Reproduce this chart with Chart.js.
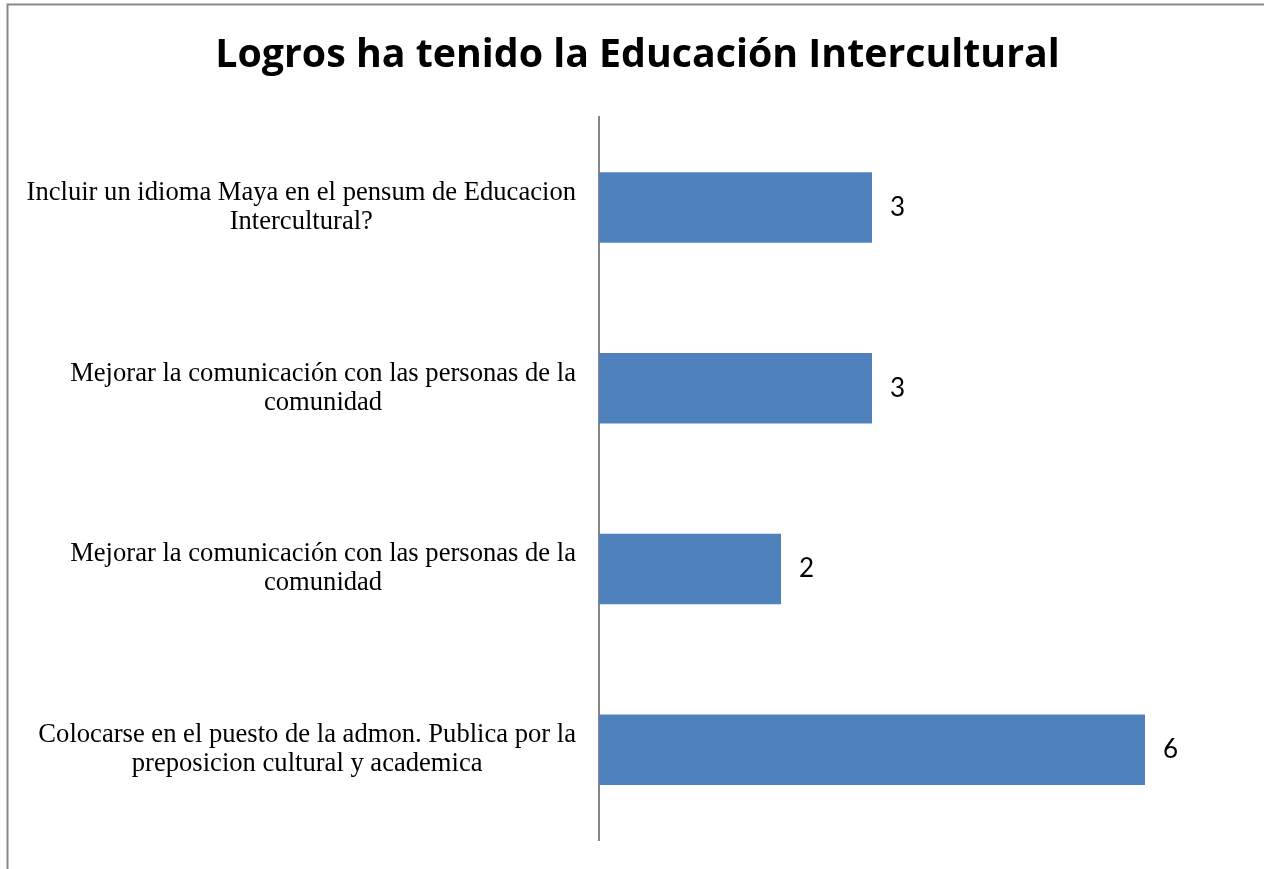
<!DOCTYPE html>
<html>
<head>
<meta charset="utf-8">
<script src="https://cdn.jsdelivr.net/npm/chart.js@4/dist/chart.umd.min.js"></script>
<style>
  html, body { margin: 0; padding: 0; background: #fff; }
  #wrap { width: 1264px; height: 869px; }
</style>
</head>
<body>
<div id="wrap"><canvas id="logrosChart"></canvas></div>
<script>
const categories = [
  ["Incluir un idioma Maya en el pensum de Educacion", "Intercultural?"],
  ["Mejorar la comunicación con las personas de la", "comunidad"],
  ["Mejorar la comunicación con las personas de la", "comunidad"],
  ["Colocarse en el puesto de la admon. Publica por la", "preposicion cultural y academica"]
];
const values = [3, 3, 2, 6];
const axisMax = 7;

const labelFont = "26.6px 'Liberation Serif', 'Times New Roman', serif";
const valueFont = "26px Lato, 'Open Sans', sans-serif";

// marco del grafico (solo arriba e izquierda visibles)
const framePlugin = {
  id: "frame",
  beforeDraw(chart) {
    const ctx = chart.ctx;
    ctx.save();
    ctx.strokeStyle = "#888888";
    ctx.lineWidth = 2;
    ctx.beginPath();
    ctx.moveTo(7.5, 869);
    ctx.lineTo(7.5, 4.5);
    ctx.lineTo(1264, 4.5);
    ctx.stroke();
    ctx.restore();
  }
};

// etiquetas de categoria: bloque alineado a la derecha, lineas centradas
const categoryLabels = {
  id: "categoryLabels",
  afterDraw(chart) {
    const ctx = chart.ctx;
    const yScale = chart.scales.y;
    const right = chart.chartArea.left - 23;
    const lineH = 29;
    ctx.save();
    ctx.font = labelFont;
    ctx.fillStyle = "#000";
    ctx.textAlign = "center";
    ctx.textBaseline = "middle";
    categories.forEach((lines, i) => {
      const y = yScale.getPixelForValue(i);
      const widest = Math.max(...lines.map(l => ctx.measureText(l).width));
      const cx = right - widest / 2;
      const top = y - (lines.length - 1) * lineH / 2;
      lines.forEach((l, j) => ctx.fillText(l, cx, top + j * lineH));
    });
    ctx.restore();
  }
};

// valores al final de cada barra
const valueLabels = {
  id: "valueLabels",
  afterDatasetsDraw(chart) {
    const ctx = chart.ctx;
    const meta = chart.getDatasetMeta(0);
    ctx.save();
    ctx.font = valueFont;
    ctx.fillStyle = "#000";
    ctx.textAlign = "left";
    ctx.textBaseline = "middle";
    meta.data.forEach((bar, i) => {
      ctx.fillText(String(values[i]), bar.x + 18, bar.y);
    });
    ctx.restore();
  }
};

const chart = new Chart(document.getElementById("logrosChart"), {
  type: "bar",
  data: {
    labels: categories,
    datasets: [{
      data: values,
      backgroundColor: "#4F81BD",
      borderWidth: 0,
      categoryPercentage: 1,
      barPercentage: 0.39
    }]
  },
  options: {
    indexAxis: "y",
    responsive: true,
    maintainAspectRatio: false,
    animation: false,
    layout: { padding: { left: 39, right: 28, bottom: 29, top: 0 } },
    plugins: {
      legend: { display: false },
      tooltip: { enabled: false },
      title: {
        display: true,
        text: "Logros ha tenido la Educación Intercultural",
        color: "#000",
        font: { family: "'Open Sans', sans-serif", size: 39.3, weight: "bold", lineHeight: 1.2 },
        padding: { top: 32, bottom: 38 }
      }
    },
    scales: {
      x: {
        display: false,
        min: 0,
        max: axisMax
      },
      y: {
        display: true,
        ticks: { display: false },
        grid: { display: false },
        border: { display: true, color: "#868686", width: 2 },
        afterFit(scale) { scale.width = 560; }
      }
    }
  },
  plugins: [framePlugin, categoryLabels, valueLabels]
});
</script>
</body>
</html>
